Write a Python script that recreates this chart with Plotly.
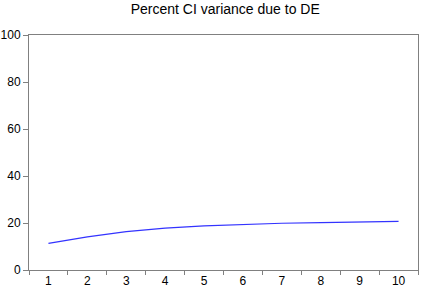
import plotly.graph_objects as go

periods = [1, 2, 3, 4, 5, 6, 7, 8, 9, 10]
percent_ci = [11.3, 14.1, 16.3, 17.8, 18.8, 19.5, 19.9, 20.2, 20.5, 20.7]
y_ticks = [0, 20, 40, 60, 80, 100]

fig = go.Figure()
fig.add_trace(go.Scatter(x=periods, y=percent_ci, mode="lines",
                         line=dict(color="#3333ff", width=1.2), showlegend=False))

fig.update_layout(
    width=425, height=291,
    margin=dict(l=29, r=7, t=35, b=21),
    paper_bgcolor="white", plot_bgcolor="white",
    font=dict(family="Liberation Sans, Arial", size=12, color="black"),
    title=dict(text="Percent CI variance due to DE", x=0.53, xanchor="center",
               y=0.985, yanchor="top", font=dict(size=14), automargin=False),
    xaxis=dict(range=[0.5, 10.5], tickvals=periods, ticktext=[str(p) for p in periods],
               ticks="", showgrid=False, zeroline=False, automargin=False,
               showline=True, linecolor="#808080", linewidth=1, mirror=True,
               minor=dict(tick0=0.5, dtick=1, ticks="outside", ticklen=4,
                          tickcolor="#808080", showgrid=False),
               tickfont=dict(size=12)),
    yaxis=dict(range=[0, 100], tickvals=y_ticks, ticks="outside", ticklen=5,
               tickcolor="#808080", showgrid=False, zeroline=False, automargin=False,
               showline=True, linecolor="#808080", linewidth=1, mirror=True,
               tickfont=dict(size=12)),
)

fig.write_html("out.html", config={"displayModeBar": False},
               post_script="document.body.style.margin='0';")
